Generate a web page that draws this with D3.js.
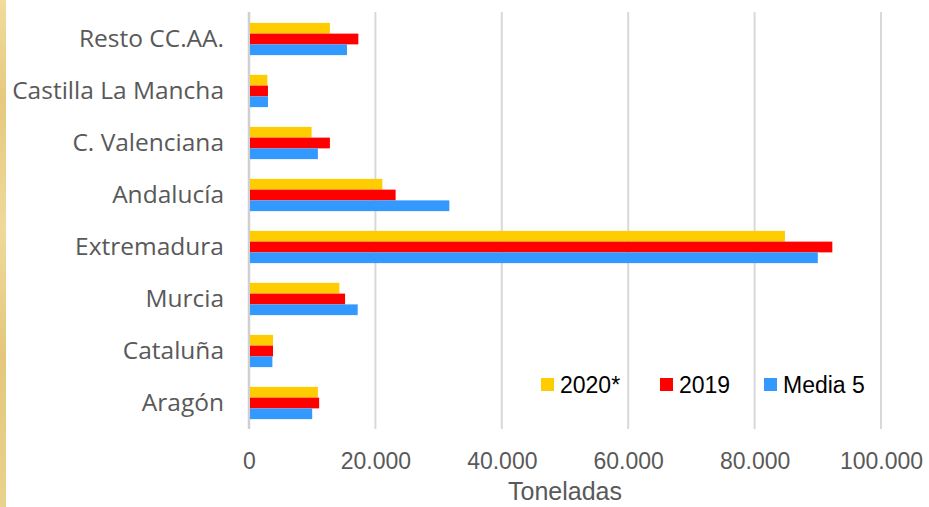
<!DOCTYPE html>
<html>
<head>
<meta charset="utf-8">
<script src="https://cdn.jsdelivr.net/npm/d3@7"></script>
<style>
  html, body { margin: 0; padding: 0; background: #fff; }
  svg { display: block; }
</style>
</head>
<body>
<svg id="chart" width="929" height="507"></svg>
<script>
const categories = ["Resto CC.AA.", "Castilla La Mancha", "C. Valenciana", "Andalucía", "Extremadura", "Murcia", "Cataluña", "Aragón"];
const seriesNames = ["2020*", "2019", "Media 5"];
const values2020 = [12800, 2900, 9900, 21100, 84800, 14300, 3800, 10900];
const values2019 = [17300, 3000, 12800, 23200, 92300, 15200, 3800, 11100];
const valuesMedia5 = [15500, 3000, 10900, 31700, 90000, 17200, 3700, 10000];
const xTicks = [0, 20000, 40000, 60000, 80000, 100000];
const xTickLabels = ["0", "20.000", "40.000", "60.000", "80.000", "100.000"];
const colors = ["#FFCC00", "#FF0000", "#3399FF"];

const seriesValues = [values2020, values2019, valuesMedia5];
const svg = d3.select("#chart");

// decorative gold strip on the left
const defs = svg.append("defs");
const grad = defs.append("linearGradient").attr("id", "gold").attr("x1", 0).attr("y1", 0).attr("x2", 0).attr("y2", 1);
[["0%", "#F0DC9E"], ["20%", "#E6C97E"], ["45%", "#EFD99A"], ["70%", "#E4C77C"], ["100%", "#E9D28C"]].forEach(([o, c]) =>
  grad.append("stop").attr("offset", o).attr("stop-color", c));
svg.append("rect").attr("x", 0).attr("y", 0).attr("width", 6).attr("height", 507).attr("fill", "url(#gold)");

const x = d3.scaleLinear().domain([0, 100000]).range([249, 881]);
const y = d3.scaleBand().domain(categories).range([13, 429]).paddingInner(0.38).paddingOuter(0.19);
const ySub = d3.scaleBand().domain(seriesNames).range([0, y.bandwidth()]);

// gridlines
svg.append("g").selectAll("line").data(xTicks).join("line")
  .attr("x1", d => x(d)).attr("x2", d => x(d))
  .attr("y1", 12).attr("y2", 429)
  .attr("stroke", d => d === 0 ? "#D0D0D0" : "#D9D9D9")
  .attr("stroke-width", d => d === 0 ? 2.5 : 2);

// bars
const groups = svg.append("g").selectAll("g").data(categories).join("g")
  .attr("transform", c => `translate(0,${y(c)})`);
groups.selectAll("rect").data((c, i) => seriesNames.map((s, j) => ({ s, j, v: seriesValues[j][i] })))
  .join("rect")
  .attr("x", x(0) + 1)
  .attr("y", d => ySub(d.s))
  .attr("width", d => x(d.v) - x(0) - 1)
  .attr("height", ySub.bandwidth())
  .attr("fill", d => colors[d.j]);

// x axis
const xAxis = d3.axisBottom(x).tickValues(xTicks).tickFormat((d, i) => xTickLabels[i]).tickSize(0);
const gx = svg.append("g").attr("transform", "translate(0,450)").call(xAxis);
gx.select(".domain").remove();
gx.selectAll("text")
  .attr("font-family", "'Liberation Sans', Arial, sans-serif")
  .attr("font-size", 23).attr("fill", "#595959").attr("dy", "0.71em");

// y axis
const yAxis = d3.axisLeft(y).tickSize(0).tickPadding(0);
const gy = svg.append("g").attr("transform", "translate(224,0)").call(yAxis);
gy.select(".domain").remove();
gy.selectAll("text")
  .attr("font-family", "'Open Sans', 'Noto Sans', sans-serif")
  .attr("font-size", 24.5).attr("fill", "#595959");

// axis title
svg.append("text").attr("x", 565).attr("y", 500).attr("text-anchor", "middle")
  .attr("font-family", "'Liberation Sans', sans-serif")
  .attr("font-size", 25).attr("fill", "#595959").text("Toneladas");

// legend
const legendX = [541, 660, 764];
const lg = svg.append("g").selectAll("g").data(seriesNames).join("g")
  .attr("transform", (d, i) => `translate(${legendX[i]},378)`);
lg.append("rect").attr("width", 13).attr("height", 13).attr("fill", (d, i) => colors[i]);
lg.append("text").attr("x", 19).attr("y", 15)
  .attr("font-family", "'Liberation Sans', Arial, sans-serif")
  .attr("font-size", 23).attr("fill", "#000").text(d => d);
</script>
</body>
</html>
